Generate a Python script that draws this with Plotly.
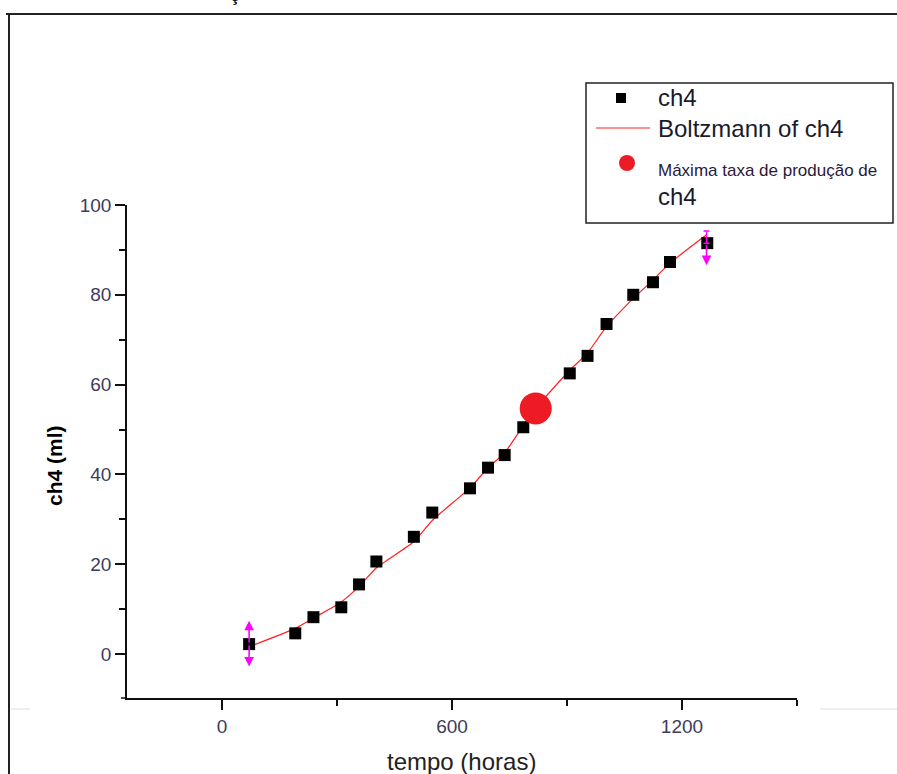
import plotly.graph_objects as go

# ---- data ----
tempo = [70.6, 191.0, 238.4, 311.1, 357.4, 402.6, 500.4, 548.5, 646.8, 693.9,
         737.3, 785.9, 907.2, 953.5, 1003.1, 1072.8, 1124.2, 1168.6, 1265.9]
ch4 = [2.2, 4.6, 8.2, 10.4, 15.5, 20.6, 26.1, 31.5, 36.9, 41.5,
       44.3, 50.5, 62.5, 66.4, 73.5, 80.0, 82.8, 87.3, 91.5]

fit_x = [70, 191, 238, 311, 357, 403, 500, 549, 647, 694, 737, 786, 818,
         907, 953, 1003, 1073, 1124, 1168, 1263]
fit_y = [1.6, 5.7, 8.0, 11.6, 15.0, 19.2, 25.0, 29.8, 37.0, 41.5, 44.8, 50.9, 54.7,
         63.2, 67.0, 72.9, 79.2, 83.3, 87.0, 93.3]

max_rate_x = [818.3]
max_rate_y = [54.7]

x_ticks = [0, 600, 1200]
y_ticks = [0, 20, 40, 60, 80, 100]

# masked-point marker extents (first and last points)
first_pt = (70.6, 2.2, 7.4, -2.8)      # x, y, up-tip, down-tip
last_pt = (1264.0, 91.5, 94.2, 86.6)   # x, y, cap, down-tip

X_RANGE = [-248, 1500]
Y_RANGE = [-9.8, 100]

# ---- layout geometry (pixels) ----
W, H = 897, 774
L, R, T, B = 127, 797, 205, 698


def px(xp):
    return (xp - L) / (R - L)


def py(yp):
    return (B - yp) / (B - T)


RED = "#ED1C24"
LINE_RED = "#FF2020"
MAG = "#FF00FF"
TICKC = "#3c3c5c"
FONT = "Liberation Sans, Arial, sans-serif"

fig = go.Figure()

fig.add_trace(go.Scatter(x=fit_x, y=fit_y, mode="lines", name="Boltzmann of ch4",
                         line=dict(color=LINE_RED, width=1.2, shape="spline", smoothing=0.6),
                         showlegend=False))
fig.add_trace(go.Scatter(x=tempo, y=ch4, mode="markers", name="ch4",
                         marker=dict(symbol="square", size=12, color="black"),
                         showlegend=False))
fig.add_trace(go.Scatter(x=max_rate_x, y=max_rate_y, mode="markers",
                         name="Máxima taxa de produção de ch4",
                         marker=dict(symbol="circle", size=32, color=RED),
                         showlegend=False))
# cap on the last point
fig.add_trace(go.Scatter(x=[last_pt[0]], y=[last_pt[1]], mode="markers",
                         marker=dict(size=1, color="rgba(0,0,0,0)"),
                         error_y=dict(type="data", symmetric=False,
                                      array=[last_pt[2] - last_pt[1]], arrayminus=[0],
                                      color=MAG, thickness=1.5, width=3),
                         showlegend=False, hoverinfo="skip"))

annotations = []
# magenta arrows
for (hx, hy, tx, ty) in [(first_pt[0], first_pt[2], first_pt[0], first_pt[1]),
                         (first_pt[0], first_pt[3], first_pt[0], first_pt[1]),
                         (last_pt[0], last_pt[3], last_pt[0], last_pt[1])]:
    annotations.append(dict(x=hx, y=hy, ax=tx, ay=ty, xref="x", yref="y",
                            axref="x", ayref="y", showarrow=True, text="",
                            arrowhead=2, arrowsize=1.2, arrowwidth=1.6,
                            arrowcolor=MAG))

# cut-off title fragment at the very top
annotations.append(dict(x=px(235), y=py(6), xref="paper", yref="paper",
                        text="<b>ç</b>", showarrow=False, borderpad=0,
                        font=dict(family=FONT, size=18, color="#111111"),
                        xanchor="center", yanchor="bottom"))

# axis titles
annotations.append(dict(x=px(54), y=py(466), xref="paper", yref="paper",
                        text="<b>ch4 (ml)</b>", textangle=-90, showarrow=False,
                        font=dict(family=FONT, size=21, color="black"),
                        xanchor="center", yanchor="middle"))
annotations.append(dict(x=px(461), y=py(761), xref="paper", yref="paper",
                        text="tempo (horas)", showarrow=False,
                        font=dict(family=FONT, size=24, color="#222222"),
                        xanchor="center", yanchor="middle"))

# manual legend
leg_font_big = dict(family=FONT, size=24, color="#1a1a2a")
annotations.append(dict(x=px(656), y=py(98), xref="paper", yref="paper", text="ch4",
                        showarrow=False, font=leg_font_big, xanchor="left", yanchor="middle"))
annotations.append(dict(x=px(656), y=py(128), xref="paper", yref="paper",
                        text="Boltzmann of ch4", showarrow=False, font=leg_font_big,
                        xanchor="left", yanchor="middle"))
annotations.append(dict(x=px(656), y=py(170), xref="paper", yref="paper",
                        text="Máxima taxa de produção de", showarrow=False,
                        font=dict(family=FONT, size=17, color="#2a1a3a"),
                        xanchor="left", yanchor="middle"))
annotations.append(dict(x=px(656), y=py(196), xref="paper", yref="paper", text="ch4",
                        showarrow=False, font=leg_font_big, xanchor="left", yanchor="middle"))

shapes = [
    # legend box
    dict(type="rect", xref="paper", yref="paper", x0=px(586), x1=px(893),
         y0=py(223), y1=py(83), line=dict(color="#222222", width=1.5), fillcolor="white",
         layer="below"),
    # legend symbols
    dict(type="rect", xref="paper", yref="paper", x0=px(616), x1=px(626),
         y0=py(103), y1=py(93), line=dict(width=0), fillcolor="black"),
    dict(type="line", xref="paper", yref="paper", x0=px(596), x1=px(650),
         y0=py(128), y1=py(128), line=dict(color=LINE_RED, width=1.2)),
    dict(type="circle", xref="paper", yref="paper", x0=px(619), x1=px(635),
         y0=py(171), y1=py(155), line=dict(width=0), fillcolor=RED),
    # outer frame
    dict(type="line", xref="paper", yref="paper", x0=px(6), x1=px(905),
         y0=py(14), y1=py(14), line=dict(color="#222222", width=2)),
    dict(type="line", xref="paper", yref="paper", x0=px(9), x1=px(9),
         y0=py(14), y1=py(780), line=dict(color="#222222", width=2)),
    # faint grey page lines
    dict(type="line", xref="paper", yref="paper", x0=px(11), x1=px(30),
         y0=py(709), y1=py(709), line=dict(color="#dddddd", width=1)),
    dict(type="line", xref="paper", yref="paper", x0=px(820), x1=px(900),
         y0=py(709), y1=py(709), line=dict(color="#dddddd", width=1)),
    # x axis line extends slightly left of the y axis
    dict(type="line", xref="paper", yref="paper", x0=px(121), x1=px(127),
         y0=0, y1=0, line=dict(color="#111111", width=1.5)),
]

fig.update_layout(
    width=W, height=H,
    margin=dict(l=L, r=W - R, t=T, b=H - B, pad=0),
    paper_bgcolor="white", plot_bgcolor="white",
    showlegend=False,
    annotations=annotations,
    shapes=shapes,
    xaxis=dict(range=X_RANGE, tickmode="array", tickvals=x_ticks,
               ticktext=[str(v) for v in x_ticks],
               showgrid=False, zeroline=False, showline=True, linecolor="#111111",
               linewidth=1.5, ticks="outside", ticklen=10, tickwidth=1.5,
               tickcolor="#111111",
               minor=dict(tickvals=[300, 900, 1500], ticklen=6, tickwidth=1.5,
                          tickcolor="#111111", ticks="outside"),
               tickfont=dict(family=FONT, size=19, color=TICKC)),
    yaxis=dict(range=Y_RANGE, tickmode="array", tickvals=y_ticks,
               ticktext=[str(v) for v in y_ticks],
               showgrid=False, zeroline=False, showline=True, linecolor="#111111",
               linewidth=1.5, ticks="outside", ticklen=10, tickwidth=1.5,
               tickcolor="#111111",
               minor=dict(tickvals=[10, 30, 50, 70, 90], ticklen=6, tickwidth=1.5,
                          tickcolor="#111111", ticks="outside"),
               tickfont=dict(family=FONT, size=19, color=TICKC)),
)

fig.write_html("out.html")
